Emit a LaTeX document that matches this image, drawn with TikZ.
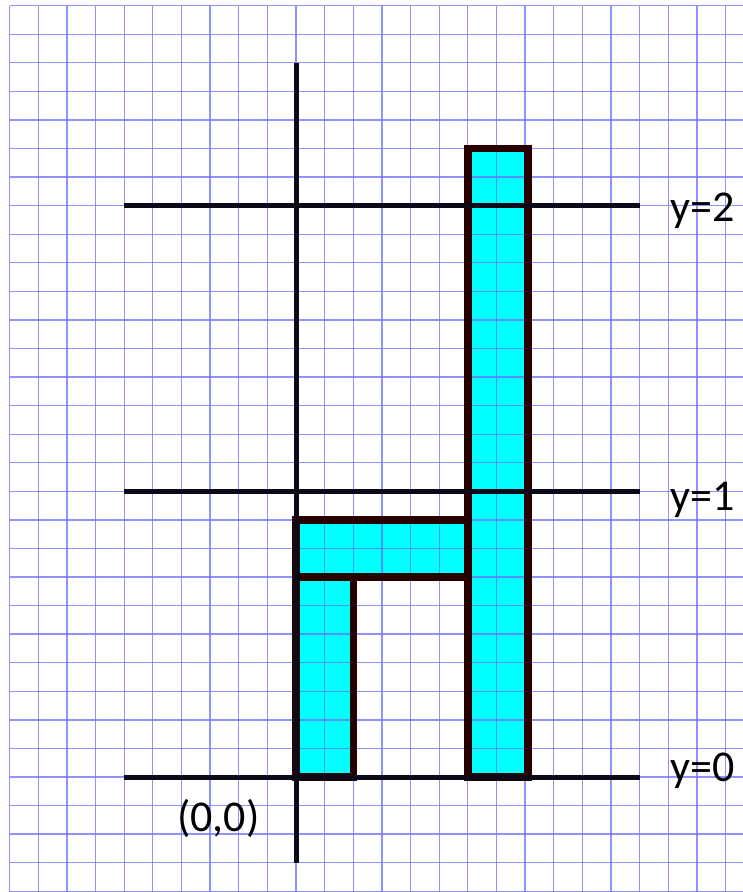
\documentclass[tikz,border=0pt]{standalone}
\usepackage{fontspec}
\setmainfont{Carlito}
\definecolor{gridblue}{RGB}{110,110,255}
\definecolor{edge}{RGB}{40,0,0}
\definecolor{fillc}{RGB}{0,255,255}
\definecolor{axisc}{RGB}{10,10,25}
\tikzset{
  gridline/.style={draw=gridblue, line width=1.3pt, opacity=0.75},
  block/.style={fill=fillc},
  blockedge/.style={draw=edge, line width=7.5pt, line join=miter},
  axisline/.style={draw=axisc, line width=5pt},
  lbl/.style={inner sep=0pt, anchor=base west, font=\fontsize{44}{50}\selectfont}
}
\begin{document}
\begin{tikzpicture}[x=28.64pt, y=28.57pt]
\useasboundingbox (-10.335,-4.025) rectangle (15.607,27.196);
\fill[white] (-10.335,-4.025) rectangle (15.607,27.196);
% fills
\fill[block] (0,0) rectangle (2,7);
\fill[block] (0,7) rectangle (6,9);
\fill[block] (6,0) rectangle (8.1,22);
% grid
\foreach \i in {-10,...,15} \draw[gridline] (\i,-4.1) -- (\i,27);
\foreach \j in {-4,...,27} \draw[gridline] (-10,\j) -- (15.7,\j);
% outlines
\draw[blockedge] (0,0) rectangle (2,7);
\draw[blockedge] (0,7) rectangle (6,9);
\draw[blockedge] (6,0) rectangle (8.1,22);
% axes
\draw[axisline] (-6,0) -- (12,0);
\draw[axisline] (-6,10) -- (12,10);
\draw[axisline] (-6,20) -- (12,20);
\draw[axisline] (0,-3) -- (0,25);
% labels
\node[lbl] (l2) at (13.08,19.46) {y=2};
\node[lbl] (l1) at (13.08,9.34) {y=1};
\node[lbl] (l0) at (13.08,-0.16) {y=0};
\node[lbl] (o) at (-4.16,-1.91) {(0,0)};
\end{tikzpicture}
\end{document}
